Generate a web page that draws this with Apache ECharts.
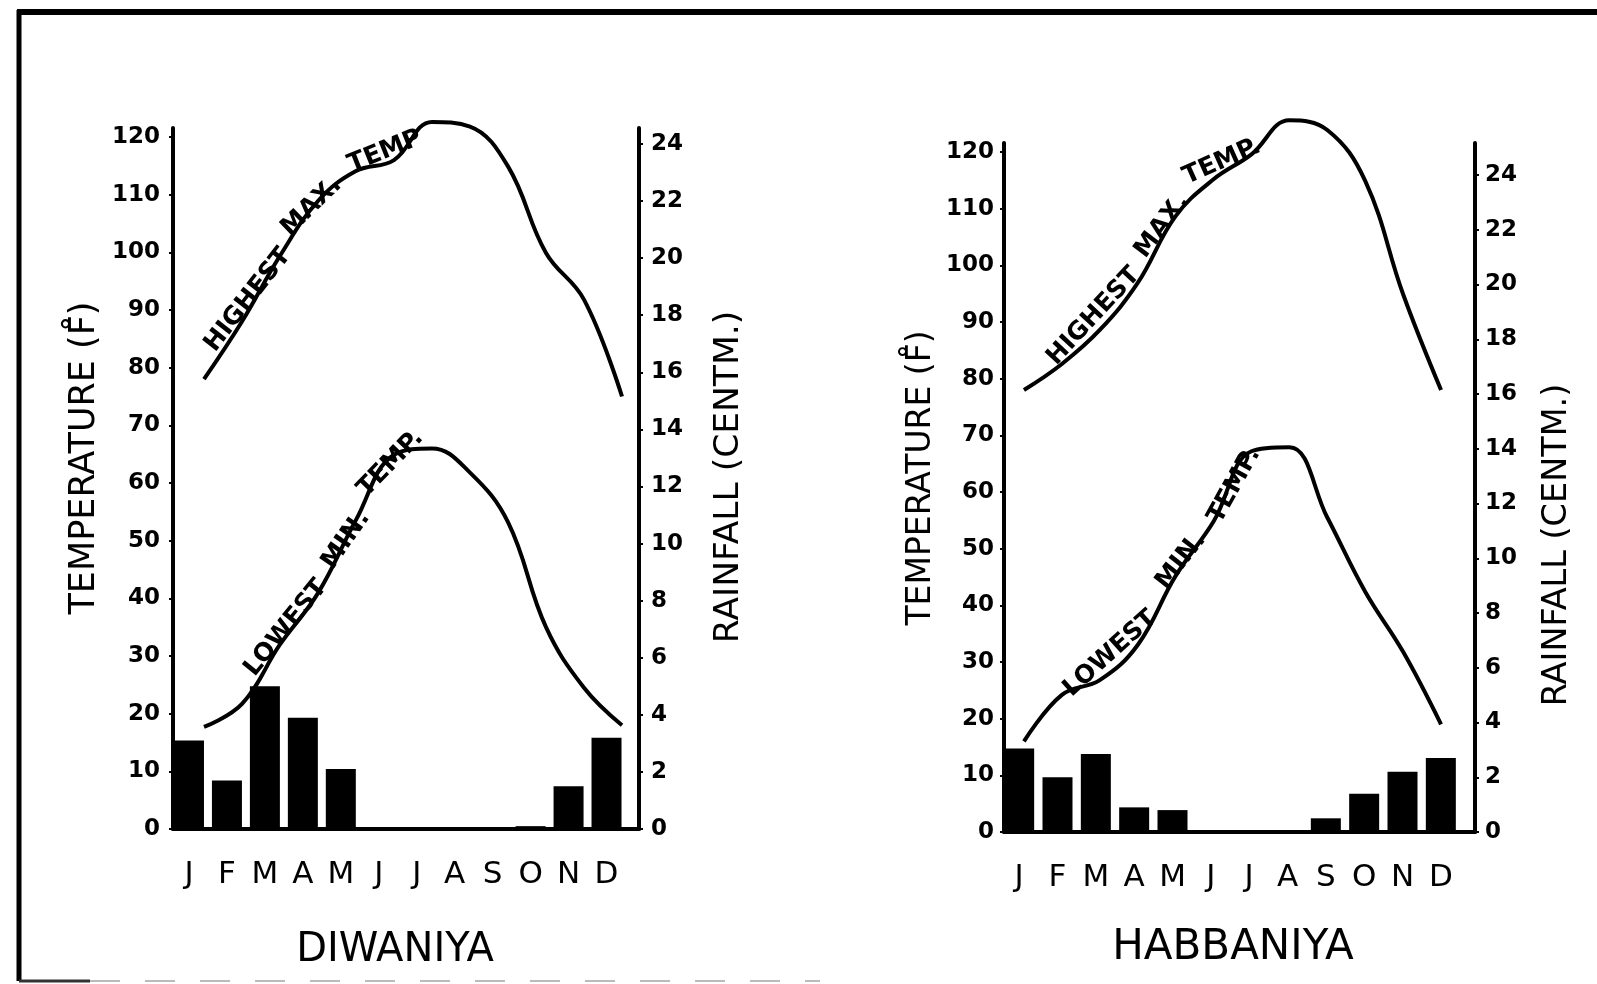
<!DOCTYPE html>
<html>
<head>
<meta charset="utf-8">
<script src="https://cdn.jsdelivr.net/npm/echarts@6/dist/echarts.min.js"></script>
<style>
html,body{margin:0;padding:0;background:#fff;}
#chart{width:1597px;height:984px;}
</style>
</head>
<body>
<div id="chart"></div>
<script>
// ---- data ----
const months = ['J','F','M','A','M','J','J','A','S','O','N','D'];
const tempTicks = [0,10,20,30,40,50,60,70,80,90,100,110,120];
const rainTicks = [0,2,4,6,8,10,12,14,16,18,20,22,24];

const diwaniyaRain = [3.1, 1.7, 5.0, 3.9, 2.1, 0, 0, 0, 0, 0.1, 1.5, 3.2];
const diwaniyaMax  = [78, 88, 99.4, 108.9, 114.1, 116, 122.6, 121.8, 114.9, 99.9, 91.8, 75];
const diwaniyaMin  = [17.7, 21.7, 32, 40.9, 53.6, 64.9, 66, 61.8, 53.2, 35, 24.5, 18];

const habbaniyaRain = [3.05, 2.0, 2.85, 0.9, 0.8, 0, 0, 0, 0.5, 1.4, 2.2, 2.7];
const habbaniyaMax  = [78, 82.6, 88.6, 96.9, 108.7, 115.2, 119.6, 125.6, 123.9, 114.9, 94.9, 78];
const habbaniyaMin  = [16, 24.2, 26.8, 33, 45.2, 54.8, 67.2, 67.9, 55.5, 42.4, 31.8, 19];

const FONT = 'DejaVu Sans';

// ---- layout ----
const panels = [
  {frameLeft:173, frameRight:639, top:128, bottom:829, barLeft:170, barWidth:455.5,
   lineLeft:185, lineWidth:456, tempMax:121.56, rainMax:24.56, lm:13, rm:12,
   rain:diwaniyaRain, tmax:diwaniyaMax, tmin:diwaniyaMin},
  {frameLeft:1004, frameRight:1475, top:143, bottom:832, barLeft:1000, barWidth:460,
   lineLeft:1005, lineWidth:455, tempMax:121.6, rainMax:25.17, lm:10, rm:10,
   rain:habbaniyaRain, tmax:habbaniyaMax, tmin:habbaniyaMin}
];

const grid = [], xAxis = [], yAxis = [], series = [];
panels.forEach((p, i) => {
  const g = i * 3;
  const h = p.bottom - p.top;
  grid.push({left:p.frameLeft, top:p.top, width:p.frameRight - p.frameLeft, height:h});
  grid.push({left:p.barLeft, top:p.top, width:p.barWidth, height:h});
  grid.push({left:p.lineLeft, top:p.top, width:p.lineWidth, height:h});

  xAxis.push({type:'category', gridIndex:g, data:months,
    axisLine:{show:true, lineStyle:{color:'#000', width:4}},
    axisTick:{show:false}, axisLabel:{show:false}, splitLine:{show:false}});
  xAxis.push({type:'category', gridIndex:g+1, data:months,
    axisLine:{show:false}, axisTick:{show:false},
    axisLabel:{color:'#000', fontSize:31, fontFamily:FONT, margin:30}});
  xAxis.push({type:'category', gridIndex:g+2, data:months, show:false});

  const yi = i * 4;
  const lab = {color:'#000', fontSize:23, fontWeight:'bold', fontFamily:FONT};
  yAxis.push({type:'value', gridIndex:g, position:'left', min:0, max:p.tempMax,
    axisLine:{show:true, lineStyle:{color:'#000', width:4}},
    axisTick:{show:true, length:4, lineStyle:{color:'#000', width:2}, customValues:tempTicks},
    axisLabel:Object.assign({customValues:tempTicks, margin:p.lm}, lab),
    splitLine:{show:false}});
  yAxis.push({type:'value', gridIndex:g, position:'right', min:0, max:p.rainMax,
    axisLine:{show:true, lineStyle:{color:'#000', width:4}},
    axisTick:{show:true, length:4, lineStyle:{color:'#000', width:2}, customValues:rainTicks},
    axisLabel:Object.assign({customValues:rainTicks, margin:p.rm}, lab),
    splitLine:{show:false}});
  yAxis.push({type:'value', gridIndex:g+1, min:0, max:p.rainMax, show:false});
  yAxis.push({type:'value', gridIndex:g+2, min:0, max:p.tempMax, show:false});

  series.push({type:'bar', xAxisIndex:g+1, yAxisIndex:yi+2, data:p.rain,
    barWidth:30, itemStyle:{color:'#000'}, z:2});
  series.push({type:'line', xAxisIndex:g+2, yAxisIndex:yi+3, data:p.tmax, clip:false,
    smooth:0.4, symbol:'none', lineStyle:{color:'#000', width:4}, z:3});
  series.push({type:'line', xAxisIndex:g+2, yAxisIndex:yi+3, data:p.tmin, clip:false,
    smooth:0.4, symbol:'none', lineStyle:{color:'#000', width:4}, z:3});
});

function txt(s, x, y, deg, size, weight) {
  return {type:'text', x:x, y:y, rotation:deg * Math.PI / 180, z:10,
    style:{text:s, fill:'#000', font:(weight || 'normal') + ' ' + size + 'px "' + FONT + '"',
      align:'center', verticalAlign:'middle'}};
}

const graphic = [
  // frame
  {type:'line', shape:{x1:17, y1:12, x2:1597, y2:12}, style:{stroke:'#000', lineWidth:6}},
  {type:'line', shape:{x1:19, y1:10, x2:19, y2:981}, style:{stroke:'#000', lineWidth:5}},
  {type:'line', shape:{x1:19, y1:981, x2:90, y2:981}, style:{stroke:'#333', lineWidth:3}},
  {type:'line', shape:{x1:90, y1:981, x2:820, y2:981}, style:{stroke:'#bbb', lineWidth:2, lineDash:[30,25]}},
  // axis titles
  txt('TEMPERATURE (F\u030A)', 85, 458, 90, 35),
  txt('RAINFALL (CENTM.)', 729, 477, 90, 34.5),
  txt('TEMPERATURE (F\u030A)', 921, 478, 90, 33),
  txt('RAINFALL (CENTM.)', 1557, 545, 90, 33.5),
  // station names
  txt('DIWANIYA', 395, 951, 0, 40),
  txt('HABBANIYA', 1233, 948, 0, 42),
  // curve labels (Diwaniya)
  txt('HIGHEST', 248, 300, 52, 25, 'bold'),
  txt('MAX.', 311.5, 206.6, 44, 25, 'bold'),
  txt('TEMP', 385, 151.6, 22, 25, 'bold'),
  txt('LOWEST', 286, 628, 51, 25, 'bold'),
  txt('MIN.', 346, 540, 55, 25, 'bold'),
  txt('TEMP.', 390.6, 463.5, 46, 25, 'bold'),
  // curve labels (Habbaniya)
  txt('HIGHEST', 1093.7, 316.4, 47, 25, 'bold'),
  txt('MAX.', 1162, 226, 53, 25, 'bold'),
  txt('TEMP.', 1222, 161.6, 24, 25, 'bold'),
  txt('LOWEST', 1110.3, 653.7, 42, 25, 'bold'),
  txt('MIN.', 1181, 561, 52, 25, 'bold'),
  txt('TEMP.', 1234.4, 485.4, 61, 25, 'bold')
];

const chart = echarts.init(document.getElementById('chart'), null, {renderer:'canvas'});
chart.setOption({
  backgroundColor:'#fff',
  animation:false,
  grid:grid, xAxis:xAxis, yAxis:yAxis, series:series, graphic:graphic
});
</script>
</body>
</html>
